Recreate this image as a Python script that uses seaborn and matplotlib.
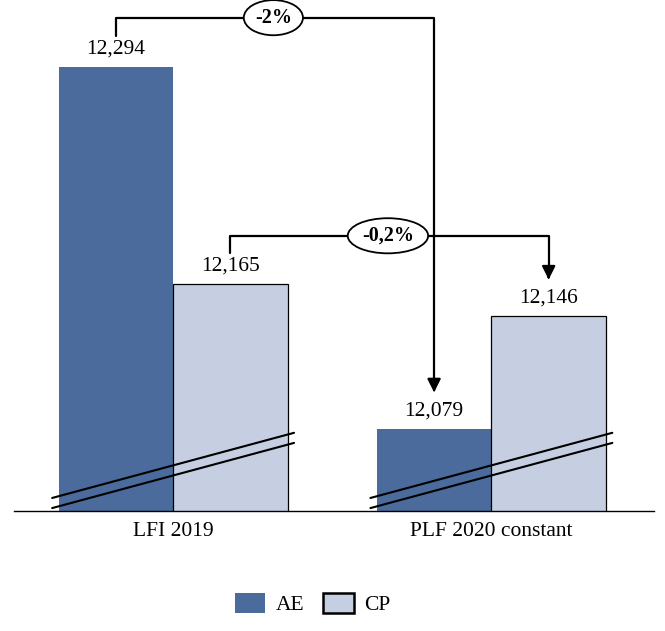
import pandas as pd
import matplotlib.pyplot as plt
import matplotlib.patches as mpatches
import seaborn as sns

# Data
categories = ["LFI 2019", "PLF 2020 constant"]
ae_values = [12294, 12079]
cp_values = [12165, 12146]
series = ["AE", "CP"]
colors = {"AE": "#4a6b9b", "CP": "#c5cfe1"}
change_labels = {"AE": "-2%", "CP": "-0,2%"}

df = pd.DataFrame({
    "category": categories * 2,
    "series": ["AE"] * 2 + ["CP"] * 2,
    "value": ae_values + cp_values,
})

sns.set_style("white")
plt.rcParams["font.family"] = ["Liberation Serif", "DejaVu Serif"]
plt.rcParams["text.color"] = "black"
plt.rcParams["xtick.color"] = "black"

fig = plt.figure(figsize=(6.65, 6.31), dpi=100)
ax = fig.add_axes([0.021, 0.19, 0.962, 0.81])

sns.barplot(data=df, x="category", y="value", hue="series", palette=colors,
            width=0.72, saturation=1, legend=False, ax=ax)

y_min, y_max = 12030, 12333.5
ax.set_ylim(y_min, y_max)
ax.set_xlim(-0.5, 1.51)

# edges: CP bars get thin black outline
for bar in ax.containers[1]:
    bar.set_edgecolor("black")
    bar.set_linewidth(0.9)
for bar in ax.containers[0]:
    bar.set_linewidth(0)

# value labels
for cont in ax.containers:
    for bar in cont:
        h = bar.get_height()
        ax.text(bar.get_x() + bar.get_width() / 2, h + 10.5, f"{h:,.0f}",
                ha="center", va="center", fontsize=15.5)

# break marks (double diagonal lines across each group)
for i in range(len(categories)):
    for off in (0, 6):
        ax.plot([i - 0.38, i + 0.38], [y_min + 1.8 + off, y_min + 40.5 + off],
                color="black", lw=1.5, clip_on=False, zorder=5)

# brackets with percentage change
bracket_tops = {"AE": 12323, "CP": 12193.5}
for k, s in enumerate(series):
    bars = ax.containers[k]
    x0 = bars[0].get_x() + bars[0].get_width() / 2
    x1 = bars[1].get_x() + bars[1].get_width() / 2
    v0, v1 = bars[0].get_height(), bars[1].get_height()
    top = bracket_tops[s]
    ax.plot([x0, x0, x1, x1], [v0 + 18, top, top, v1 + 24],
            color="black", lw=1.6, zorder=4)
    ax.annotate("", xy=(x1, v1 + 21.5), xytext=(x1, v1 + 24),
                arrowprops=dict(arrowstyle="-|>", color="black", lw=1.6,
                                mutation_scale=20, shrinkA=0, shrinkB=0))
    ax.text((x0 + x1) / 2 - 0.005, top, change_labels[s], ha="center", va="center",
            fontsize=14.5, fontweight="bold", zorder=6,
            bbox=dict(boxstyle="ellipse,pad=0.12", fc="white", ec="black", lw=1.3))

sns.despine(ax=ax, left=True)
ax.spines["bottom"].set_color("black")
ax.spines["bottom"].set_linewidth(1.0)
ax.set_yticks([])
ax.set_xlabel("")
ax.set_ylabel("")
ax.tick_params(axis="x", length=0, labelsize=15.5, pad=8)

handles = [
    mpatches.Patch(facecolor=colors["AE"], edgecolor="none", label="AE"),
    mpatches.Patch(facecolor=colors["CP"], edgecolor="black", lw=1.8, label="CP"),
]
fig.legend(handles=handles, loc="center", bbox_to_anchor=(0.47, 0.043), ncol=2,
           frameon=False, fontsize=15.5, handlelength=1.4, handleheight=1.1,
           columnspacing=0.9, handletextpad=0.5)

fig.savefig("out.png", dpi=100)
